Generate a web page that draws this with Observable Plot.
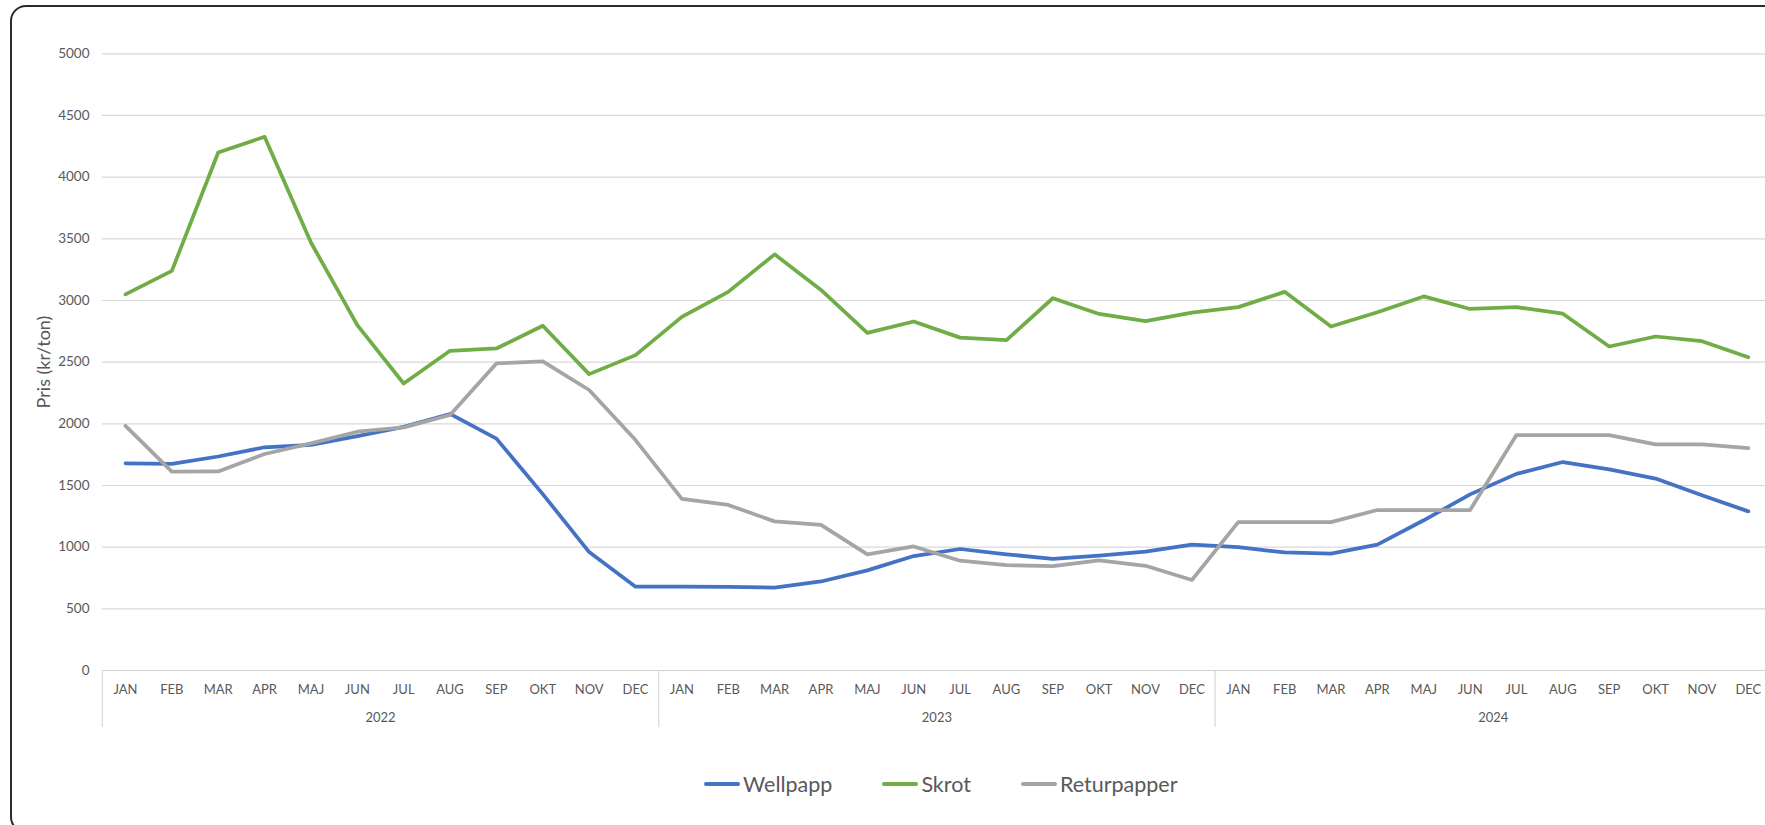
<!DOCTYPE html>
<html><head><meta charset="utf-8">
<script src="https://cdn.jsdelivr.net/npm/d3@7"></script>
<script src="https://cdn.jsdelivr.net/npm/@observablehq/plot@0.6"></script>
<style>
html,body{margin:0;padding:0;background:#fff;overflow:hidden;width:1765px;height:825px;}
#frame{position:absolute;left:10px;top:5px;width:1850px;height:828px;border:2px solid #2b2b2b;border-radius:16px;box-sizing:border-box;}
#chart{position:absolute;left:0;top:0;}
#legend{position:absolute;left:704px;top:772px;height:24px;display:flex;align-items:center;gap:50px;font-family:Lato,"Open Sans",sans-serif;font-size:21.5px;color:#595959;}
.item{display:flex;align-items:center;}
.sw{width:36px;height:4px;border-radius:2px;margin-right:3px;}
</style></head><body>
<div id="frame"></div>
<div id="chart"></div>
<div id="legend"></div>
<script>
const months = ["JAN","FEB","MAR","APR","MAJ","JUN","JUL","AUG","SEP","OKT","NOV","DEC"];
const years = ["2022","2023","2024"];
const seriesNames = ["Wellpapp","Skrot","Returpapper"];
const seriesColors = ["#4472C4","#70AD47","#A5A5A5"];
const yTicks = [0,500,1000,1500,2000,2500,3000,3500,4000,4500,5000];

const wellpapp = [1680,1675,1735,1810,1830,1900,1975,2080,1880,1430,960,680,
                  680,678,672,722,812,928,985,942,905,932,963,1020,
                  1000,957,948,1020,1218,1428,1594,1690,1631,1556,1420,1290];
const skrot = [3050,3240,4200,4327,3470,2800,2327,2592,2611,2795,2403,2557,
               2867,3070,3374,3085,2737,2830,2699,2679,3018,2891,2832,2902,
               2946,3070,2789,2905,3033,2931,2946,2893,2627,2708,2670,2540];
const returpapper = [1984,1612,1614,1755,1841,1936,1971,2071,2490,2506,2274,1868,
                     1391,1342,1209,1180,942,1006,890,855,846,893,849,734,
                     1203,1203,1203,1301,1301,1301,1909,1909,1909,1834,1834,1802];

const seriesValues = [wellpapp, skrot, returpapper];
const rows = seriesValues.flatMap((vals, s) => vals.map((v, i) => ({series: seriesNames[s], i, value: v})));
const nMonths = years.length * months.length;
const boundaries = d3.range(years.length + 1).map(k => k * months.length - 0.5);

const FONT = "Lato, 'Open Sans', sans-serif";

const chart = Plot.plot({
  width: 1765, height: 760,
  marginLeft: 102, marginRight: 0, marginTop: 53, marginBottom: 90,
  style: {fontFamily: FONT, background: "transparent", color: "#595959"},
  x: {type: "linear", domain: [-0.5, nMonths - 0.5], range: [101.8, 1771]},
  y: {domain: [0, 5000], range: [670, 53.3]},
  color: {domain: seriesNames, range: seriesColors},
  marks: [
    Plot.ruleY(yTicks.filter(v => v > 0), {stroke: "#d9d9d9", strokeWidth: 1.2}),
    Plot.ruleY([0], {stroke: "#d0d0d0", strokeWidth: 1.2}),
    Plot.axisY({ticks: yTicks, tickFormat: d => String(d), tickSize: 0, tickPadding: 13, fontSize: 13.5, label: null}),
    Plot.axisX({ticks: d3.range(nMonths), tickFormat: i => months[i % 12], tickSize: 0, tickPadding: 14, fontSize: 13, label: null}),
    Plot.axisX({ticks: boundaries, tickSize: 57, tickFormat: () => "", stroke: "#d9d9d9", strokeWidth: 1.2, label: null}),
    Plot.text(years, {x: (d, k) => k * months.length + (months.length - 1) / 2, frameAnchor: "bottom", dy: 51, fontSize: 13, fill: "#595959"}),
    Plot.text(["Pris (kr/ton)"], {frameAnchor: "left", textAnchor: "middle", dx: -58, rotate: -90, fontSize: 18, fill: "#595959"}),
    Plot.line(rows, {x: "i", y: "value", z: "series", stroke: "series", strokeWidth: 3.75, strokeLinejoin: "round", strokeLinecap: "round"})
  ]
});
document.getElementById("chart").appendChild(chart);

const legend = d3.select("#legend");
seriesNames.forEach((name, s) => {
  const item = legend.append("div").attr("class", "item");
  item.append("div").attr("class", "sw").style("background", seriesColors[s]);
  item.append("span").text(name);
});
</script>
</body></html>
